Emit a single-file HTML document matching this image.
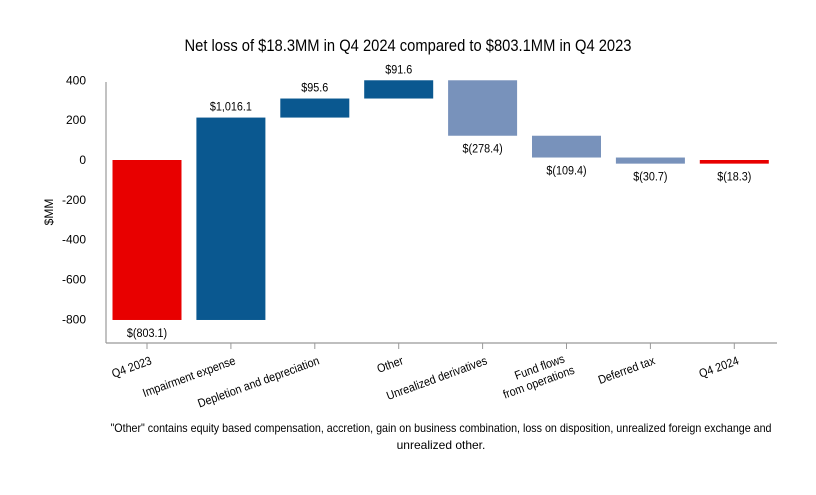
<!DOCTYPE html>
<html><head><meta charset="utf-8"><style>
body{margin:0;background:#fff;font-family:"Liberation Sans",Arial,sans-serif;}
svg text{font-family:"Liberation Sans",Arial,sans-serif;}
</style></head><body>
<svg id="c" width="816" height="490">
<text x="408" y="51" text-anchor="middle" font-size="17" textLength="447" lengthAdjust="spacingAndGlyphs" fill="#000">Net loss of $18.3MM in Q4 2024 compared to $803.1MM in Q4 2023</text>
<text transform="translate(53,212) rotate(-90)" text-anchor="middle" font-size="12">$MM</text>
<text x="441" y="432" text-anchor="middle" font-size="12" textLength="661" lengthAdjust="spacingAndGlyphs">"Other" contains equity based compensation, accretion, gain on business combination, loss on disposition, unrealized foreign exchange and</text>
<text x="441" y="449" text-anchor="middle" font-size="12">unrealized other.</text>
<g id="g"></g>
</svg>
<script>
const categories=["Q4 2023","Impairment expense","Depletion and depreciation","Other","Unrealized derivatives","Fund flows|from operations","Deferred tax","Q4 2024"];
const deltas=[-803.1,1016.1,95.6,91.6,-278.4,-109.4,-30.7,-18.3];
const kinds=["total","up","up","up","down","down","down","total"];
const valueLabels=["$(803.1)","$1,016.1","$95.6","$91.6","$(278.4)","$(109.4)","$(30.7)","$(18.3)"];
const yTicks=[400,200,0,-200,-400,-600,-800];
const NS="http://www.w3.org/2000/svg";
const g=document.getElementById('g');
const y=v=>160-v*0.1992;
const x=i=>147+i*83.9;
const bw=69;
function el(t,a){const e=document.createElementNS(NS,t);for(const k in a)e.setAttribute(k,a[k]);g.appendChild(e);return e;}
let ax=el('line',{x1:106,y1:82,x2:106,y2:343,stroke:'#999','stroke-width':1.2});


let bx=el('line',{x1:106,y1:343,x2:777,y2:343,stroke:'#999','stroke-width':1.2});


yTicks.forEach(t=>{const e=el('text',{x:86,y:y(t)+4,'text-anchor':'end','font-size':12});e.textContent=t;

});
let cum=0;
const colors={total:'#e80000',up:'#0a5890',down:'#7892bb'};
categories.forEach((c,i)=>{
 let a,b;
 if(kinds[i]==='total'){ if(i===0){a=0;b=deltas[i];cum=b;} else {a=0;b=cum;} }
 else {a=cum;b=cum+deltas[i];cum=b;}
 const top=Math.max(a,b),bot=Math.min(a,b);
 const r=el('rect',{x:x(i)-bw/2,y:y(top),width:bw,height:Math.max(y(bot)-y(top),3),fill:colors[kinds[i]]});
 
 
 const neg=deltas[i]<0;
 const ly=neg?y(bot)+Math.max(0,3-(y(bot)-y(top)))+17:y(top)-7;
 const t=el('text',{x:x(i),y:ly,'text-anchor':'middle','font-size':12,transform:`translate(${x(i)*0.1},0) scale(0.9,1)`});t.textContent=valueLabels[i];
 
 
 el('line',{x1:x(i),y1:343,x2:x(i),y2:349,stroke:'#999'});
 const lines=c.split('|');
 const tx=el('text',{transform:`translate(${x(i)+4},${360}) rotate(-20) scale(0.9,1)`,'text-anchor':'end','font-size':12});
 
 
 lines.forEach((l,k)=>{const s=document.createElementNS(NS,'tspan');s.setAttribute('x',lines.length>1&&k===0?-6:0);s.setAttribute('dy',k===0?(lines.length>1?0:4):14);s.textContent=l;tx.appendChild(s);});
});
</script>
</body></html>
